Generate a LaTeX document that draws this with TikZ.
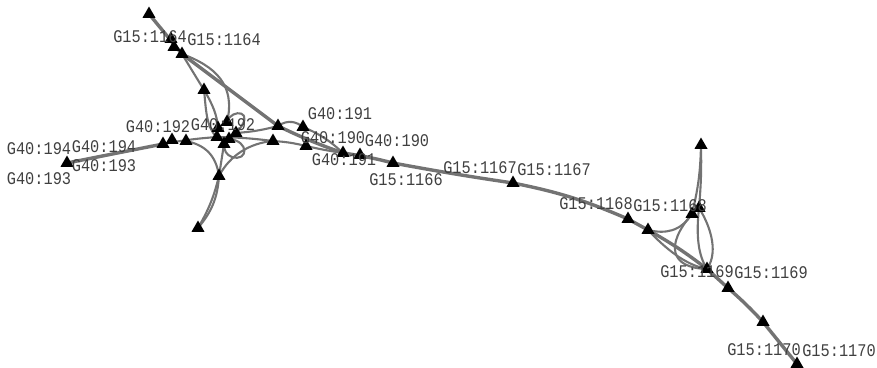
\documentclass[tikz,border=0pt]{standalone}
\usepackage{fontspec}
\setmonofont[FakeStretch=0.86]{Liberation Mono}
\usepackage{xcolor}
\usetikzlibrary{backgrounds, shapes.geometric}
\definecolor{roadgray}{gray}{0.45}
\definecolor{labelgray}{gray}{0.25}
\tikzset{
    stopmark/.style={regular polygon, regular polygon sides=3, fill=black, minimum size=15pt, inner sep=0pt, outer sep=0pt},
    stoplabel/.style={inner sep=0pt, text=labelgray, font=\ttfamily\fontsize{17.8}{18}\selectfont},
    trunk/.style={draw=roadgray, line width=3.4pt, line cap=round, line join=round},
    ramp/.style={draw=roadgray, line width=2.1pt, line cap=round, line join=round},
}

\begin{document}
\begin{tikzpicture}[x=1pt, y=-1pt]
    \useasboundingbox (0,0) rectangle (877,367);

    % stops
    \foreach \nm/\px/\py in {
        t1/149/14, t2/171/39, t3/174/47, t4/182/54, t5/204/90,
        w1/67/163, w2/163/144, w3/172/140, w4/186/141,
        c1/218/128, c2/227/122, c3/217/137, c4/236/133, c5/229/139, c6/224/144,
        s1/219/176, s2/198/228,
        e1/278/126, e2/273/141, e3/303/127, e4/306/146, e5/343/153, e6/360/155,
        m1/393/163, m2/513/183, m3/628/219, m4/648/230,
        r1/692/214, r2/699/208, r3/701/145,
        m5/707/269, m6/728/288, m7/763/322, m8/797/364}
        \node[stopmark] (\nm) at (\px,\py) {};

    % texts
    \foreach \nm/\px/\py/\txt in {
        la/150/37/G15:1164, lb/224/40/G15:1164,
        lc/158/127/G40:192, ld/223/125/G40:192,
        le/39/149/G40:194, lf/104/147/G40:194,
        lg/104/166/G40:193, lh/39/179/G40:193,
        li/340/114/G40:191, lj/333/138/G40:190, lk/397/141/G40:190, ll/344/160/G40:191,
        lm/406/180/G15:1166, ln/480/168/G15:1167, lo/554/170/G15:1167,
        lp/596/204/G15:1168, lq/670/206/G15:1168,
        lr/697/272/G15:1169, ls/771/273/G15:1169,
        lt/764/350/G15:1170, lu/839/351/G15:1170}
        \node[stoplabel] (\nm) at (\px,\py) {\txt};

    \begin{scope}[on background layer]
        % main road
        \draw[trunk] (t1.center) -- (t4.center) -- (e1.center) to[bend right=3] (e5.center) to[bend left=3] (m1.center)
            to[bend right=1] (m2.center) to[bend left=6] (m3.center) -- (m4.center) to[bend left=4] (m5.center)
            -- (m6.center) to[bend left=3] (m7.center) -- (m8.center);
        \draw[trunk] (w1.center) -- (w2.center);
        % west interchange
        \draw[ramp] (w2.center) to[bend left=3] (c3.center) -- (c5.center);
        \draw[ramp] (c3.center) to[bend left=3] (e2.center) to[bend left=5] (e4.center) to[bend right=2] (e5.center);
        \draw[ramp] (t4.center) -- (t5.center);
        \draw[ramp] (t4.center) .. controls (215,66) and (236,85) .. (c2.center);
        \draw[ramp] (t5.center) .. controls (206,108) and (206,128) .. (c3.center);
        \draw[ramp] (t5.center) .. controls (213,105) and (217,115) .. (c1.center);
        \draw[ramp] (c4.center) to[bend right=5] (e1.center);
        \draw[ramp] (e1.center) .. controls (288,119) and (297,122) .. (e3.center) to[bend left=10] (e5.center);
        \draw[ramp] (c2.center) .. controls (231,108) and (258,110) .. (c4.center);
        \draw[ramp] (c5.center) .. controls (250,141) and (248,162) .. (232,157) .. controls (226,155) and (224,150) .. (c6.center);
        \draw[ramp] (w4.center) .. controls (205,145) and (216,155) .. (s1.center);
        \draw[ramp] (e2.center) .. controls (250,143) and (230,155) .. (s1.center);
        \draw[ramp] (c6.center) -- (s1.center);
        \draw[ramp] (s1.center) to[bend left=8] (s2.center);
        \draw[ramp] (s1.center) to[bend left=18] (s2.center);
        % east interchange
        \draw[ramp] (r3.center) to[bend left=3] (r2.center);
        \draw[ramp] (r3.center) to[bend left=6] (r1.center);
        \draw[ramp] (r2.center) .. controls (696,235) and (698,255) .. (m5.center);
        \draw[ramp] (r2.center) .. controls (708,222) and (720,250) .. (m5.center);
        \draw[ramp] (m4.center) .. controls (665,234) and (680,232) .. (r1.center);
        \draw[ramp] (r1.center) .. controls (665,245) and (670,268) .. (m5.center);
        \draw[ramp] (m4.center) .. controls (665,248) and (685,265) .. (m5.center);
    \end{scope}
\end{tikzpicture}
\end{document}
